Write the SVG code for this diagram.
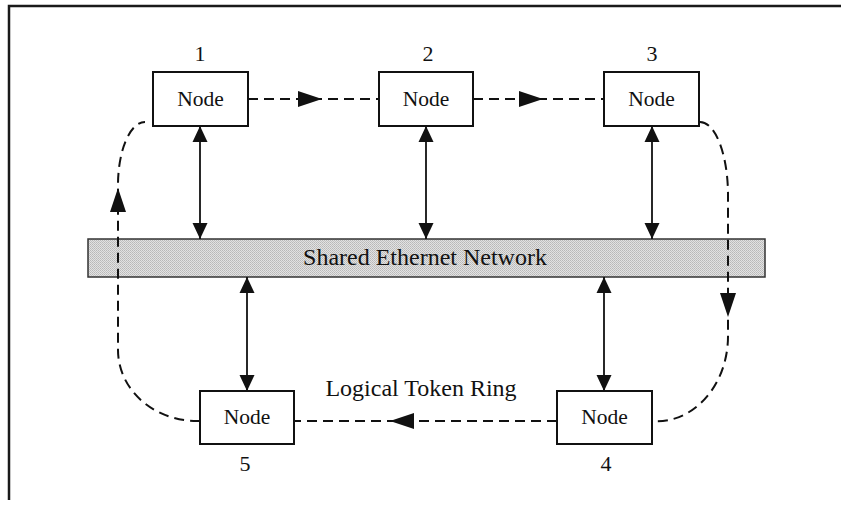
<svg xmlns="http://www.w3.org/2000/svg" xmlns:xlink="http://www.w3.org/1999/xlink" width="841" height="505" viewBox="0 0 841 505">
  <style>
    .frame { fill: none; stroke: #1a1a1a; stroke-width: 2.5; }
    .box { fill: #ffffff; stroke: #111111; stroke-width: 2; }
    .bus { fill: url(#stipple); stroke: #333333; stroke-width: 1.5; }
    .lbl { font-family: "Liberation Serif", "Times New Roman", serif; fill: #111111; text-anchor: middle; }
    .node-text { font-size: 21.5px; }
    .num { font-size: 22px; }
    .big { font-size: 24px; }
    .link { fill: none; stroke: #111111; stroke-width: 1.8; marker-start: url(#tip); marker-end: url(#tip); }
    .ring { fill: none; stroke: #111111; stroke-width: 2; stroke-dasharray: 10 6; }
    .head { fill: #111111; }
  </style>
  <defs>
    <pattern id="stipple" width="2" height="2" patternUnits="userSpaceOnUse">
      <rect width="2" height="2" fill="#e2e2e2"/>
      <rect width="1" height="1" fill="#b8b8b8"/>
      <rect x="1" y="1" width="1" height="1" fill="#c2c2c2"/>
    </pattern>
    <marker id="tip" viewBox="0 0 16 16" refX="16" refY="8" markerWidth="16" markerHeight="16" markerUnits="userSpaceOnUse" orient="auto-start-reverse">
      <path d="M0,0.5 L16,8 L0,15.5 Z" fill="#111111"/>
    </marker>
    <!-- ring direction head, tip at origin, pointing along +x -->
    <path id="ah" d="M0,0 L-24,-8 L-24,8 Z"/>
  </defs>

  <!-- outer frame -->
  <path class="frame" d="M9,500 L9,6 L841,6"/>

  <!-- shared bus -->
  <g id="bus">
    <rect class="bus" x="88" y="239" width="677" height="38"/>
    <text class="lbl big" x="425" y="265">Shared Ethernet Network</text>
  </g>

  <!-- connectors -->
  <g id="connectors">
    <!-- node to bus links -->
    <line class="link" x1="200" y1="126" x2="200" y2="239"/>
    <line class="link" x1="426" y1="126" x2="426" y2="239"/>
    <line class="link" x1="652" y1="126" x2="652" y2="239"/>
    <line class="link" x1="247" y1="277" x2="247" y2="391"/>
    <line class="link" x1="604" y1="277" x2="604" y2="391"/>

    <!-- logical token ring -->
    <path class="ring" d="M248,99 L379,99"/>
    <path class="ring" d="M473,99 L604,99"/>
    <path class="ring" d="M700,122 A28,73 0 0 1 728,195 L728,335 A71,85 0 0 1 652,421"/>
    <path class="ring" d="M557,421 L294,421"/>
    <path class="ring" d="M200,421 A79,71 0 0 1 118,350 L118,185 A27,63 0 0 1 145,122"/>

    <use xlink:href="#ah" class="head" transform="translate(322,99)"/>
    <use xlink:href="#ah" class="head" transform="translate(543,99)"/>
    <use xlink:href="#ah" class="head" transform="translate(728,317) rotate(90)"/>
    <use xlink:href="#ah" class="head" transform="translate(390,421) rotate(180)"/>
    <use xlink:href="#ah" class="head" transform="translate(118,188) rotate(-90)"/>
  </g>

  <g id="node1">
    <rect class="box" x="153" y="72" width="95" height="54"/>
    <text class="lbl node-text" x="200.5" y="106">Node</text>
    <text class="lbl num" x="200" y="61">1</text>
  </g>
  <g id="node2">
    <rect class="box" x="379" y="72" width="94" height="54"/>
    <text class="lbl node-text" x="426" y="106">Node</text>
    <text class="lbl num" x="428" y="61">2</text>
  </g>
  <g id="node3">
    <rect class="box" x="604" y="72" width="95" height="54"/>
    <text class="lbl node-text" x="651.5" y="106">Node</text>
    <text class="lbl num" x="652" y="61">3</text>
  </g>
  <g id="node4">
    <rect class="box" x="557" y="391" width="95" height="53"/>
    <text class="lbl node-text" x="604.5" y="424">Node</text>
    <text class="lbl num" x="606" y="471">4</text>
  </g>
  <g id="node5">
    <rect class="box" x="200" y="391" width="94" height="53"/>
    <text class="lbl node-text" x="247" y="424">Node</text>
    <text class="lbl num" x="245" y="471">5</text>
  </g>

  <g id="ring-label">
    <text class="lbl big" x="421" y="396">Logical Token Ring</text>
  </g>
</svg>
